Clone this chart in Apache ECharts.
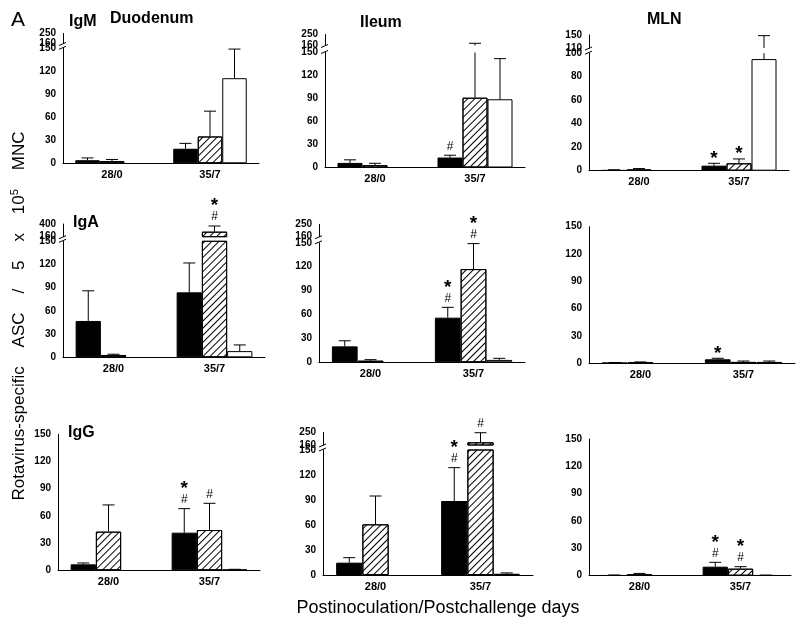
<!DOCTYPE html>
<html>
<head>
<meta charset="utf-8">
<script src="https://cdn.jsdelivr.net/npm/echarts@6/dist/echarts.min.js"></script>
<style>
  html, body { margin: 0; background: #fff; }
  #main { width: 800px; height: 620px; }
</style>
</head>
<body>
<div id="main"></div>
<script>
var days = ['28/0', '35/7'];

// rows: black, hatched, white bar; columns: days (white has no 28/0 bar)
var igmDuodenumMean = [[4, 19], [3, 35], ['-', 111]];
var igmDuodenumErr = [[3, 7], [2, 33], ['-', 38]];
var igmIleumMean = [[6, 13], [3, 91], ['-', 89]];
var igmIleumErr = [[4, 3], [2.5, 87], ['-', 53]];
var igmMlnMean = [[0.5, 4.3], [1, 6.3], ['-', 95]];
var igmMlnErr = [[0.3, 2], [0.8, 3.7], ['-', 53]];

var igaDuodenumMean = [[47, 84], [3, 255], ['-', 8]];
var igaDuodenumErr = [[39, 38], [1, 107], ['-', 8]];
var igaIleumMean = [[20, 56], [2, 117], ['-', 3]];
var igaIleumErr = [[7, 13], [1.3, 32], ['-', 2]];
var igaMlnMean = [[0.6, 4.4], [1, 1.5], ['-', 1.5]];
var igaMlnErr = [[0.3, 1.1], [0.5, 1], ['-', 1]];

var iggDuodenumMean = [[6.6, 41.5], [42.6, 44.4], ['-', 0.8]];
var iggDuodenumErr = [[1.5, 26.5], [29.5, 29.5], ['-', 0.3]];
var iggIleumMean = [[14.8, 88.8], [60.8, 179], ['-', 1.5]];
var iggIleumErr = [[6, 40], [34, 68], ['-', 1]];
var iggMlnMean = [[0.5, 9.9], [1.5, 7.7], ['-', 0.5]];
var iggMlnErr = [[0.3, 4.8], [1, 2.2], ['-', 0.2]];

// significance marks: [bar, day, symbols from bottom to top]
var igmIleumMarks = [[0, 1, '#']];
var igmMlnMarks = [[0, 1, '*'], [1, 1, '*']];
var igaDuodenumMarks = [[1, 1, '#', '*']];
var igaIleumMarks = [[0, 1, '#', '*'], [1, 1, '#', '*']];
var igaMlnMarks = [[0, 1, '*']];
var iggDuodenumMarks = [[0, 1, '#', '*'], [1, 1, '#']];
var iggIleumMarks = [[0, 1, '#', '*'], [1, 1, '#']];
var iggMlnMarks = [[0, 1, '#', '*'], [1, 1, '#', '*']];

var FONT = '"Liberation Sans", Arial, Helvetica, sans-serif';

// box: left, width, main top, main height, [break top, break height]
var panels = [
    { mean: igmDuodenumMean, err: igmDuodenumErr, marks: [], max: 150, step: 30, brk: [160, 250], box: [63, 196, 48.3, 115, 33.5, 10] },
    { mean: igmIleumMean, err: igmIleumErr, marks: igmIleumMarks, max: 150, step: 30, brk: [160, 250], box: [325, 200, 52.5, 115, 34.5, 11] },
    { mean: igmMlnMean, err: igmMlnErr, marks: igmMlnMarks, max: 100, step: 20, brk: [110, 150], box: [589, 200, 53.2, 117.5, 35, 13] },
    { mean: igaDuodenumMean, err: igaDuodenumErr, marks: igaDuodenumMarks, max: 150, step: 30, brk: [160, 400], box: [63, 202, 241.3, 116, 224, 12.7] },
    { mean: igaIleumMean, err: igaIleumErr, marks: igaIleumMarks, max: 150, step: 30, brk: [160, 250], box: [319, 206, 242.8, 119.5, 224.3, 12.4] },
    { mean: igaMlnMean, err: igaMlnErr, marks: igaMlnMarks, max: 150, step: 30, brk: null, box: [589, 206, 226.7, 136.6] },
    { mean: iggDuodenumMean, err: iggDuodenumErr, marks: iggDuodenumMarks, max: 150, step: 30, brk: null, box: [58, 202, 434.3, 136] },
    { mean: iggIleumMean, err: iggIleumErr, marks: iggIleumMarks, max: 150, step: 30, brk: [160, 250], box: [323, 210, 450, 125, 432.3, 12.7] },
    { mean: iggMlnMean, err: iggMlnErr, marks: iggMlnMarks, max: 150, step: 30, brk: null, box: [589, 202, 439, 136.7] }
];

var barStyles = [
    { color: '#000', borderColor: '#000', borderWidth: 1 },
    { color: '#fff', borderColor: '#000', borderWidth: 1,
      decal: { symbol: 'rect', symbolSize: 1, dashArrayX: [1, 0], dashArrayY: [1, 4], rotation: -Math.PI / 4, color: '#000' } },
    { color: '#fff', borderColor: '#000', borderWidth: 1 }
];

var grids = [], xAxes = [], yAxes = [], series = [], graphics = [];

function line(x1, y1, x2, y2) {
    return { type: 'line', shape: { x1: x1, y1: y1, x2: x2, y2: y2 }, style: { stroke: '#000', lineWidth: 1 } };
}

// error bars (and the * / # marks) for one bar group
function errorSeries(g, s, p) {
    var data = [];
    for (var i = 0; i < days.length; i++) {
        if (p.mean[s][i] === '-') continue;
        data.push([i, p.mean[s][i], p.err[s][i]]);
    }
    return {
        type: 'custom', xAxisIndex: g, yAxisIndex: g, data: data, z: 5, silent: true,
        encode: { x: 0, y: 1 },
        renderItem: function (params, api) {
            var i = api.value(0), v = api.value(1), e = api.value(2);
            var cs = params.coordSys;
            var bw = api.size([1, 0])[0] * 0.75 / 3;
            var x = api.coord([i, 0])[0] + (s - 1) * bw;
            var yBar = api.coord([i, v])[1];
            var yErr = api.coord([i, v + e])[1];
            var top = cs.y, bot = cs.y + cs.height;
            var a = Math.min(yBar, bot), b = Math.max(yErr, top);
            var kids = [];
            if (a > b) kids.push(line(x, a, x, b));
            if (yErr >= top - 0.5 && yErr <= bot) {
                kids.push(line(x - 6, yErr, x + 6, yErr));
                p.marks.forEach(function (m) {
                    if (m[0] !== s || m[1] !== i) return;
                    var yy = yErr - 9;
                    for (var k = 2; k < m.length; k++) {
                        var star = m[k] === '*';
                        kids.push({
                            type: 'text', x: x, y: star ? yy + 4 : yy,
                            style: {
                                text: m[k], fill: '#000', textAlign: 'center', textVerticalAlign: 'middle',
                                font: star ? 'bold 19px ' + FONT : '12px ' + FONT
                            }
                        });
                        yy -= 15;
                    }
                });
            }
            return { type: 'group', children: kids };
        }
    };
}

function addGrid(left, width, top, height, min, max, step, showX) {
    var g = grids.length;
    grids.push({ left: left, top: top, width: width, height: height });
    xAxes.push({
        gridIndex: g, type: 'category', data: days, show: showX,
        axisLine: { lineStyle: { color: '#000', width: 1 } },
        axisTick: { show: false },
        axisLabel: { color: '#000', fontWeight: 'bold', fontSize: 11, fontFamily: FONT, margin: 6 }
    });
    yAxes.push({
        gridIndex: g, type: 'value', min: min, max: max, interval: step,
        axisLine: { show: true, lineStyle: { color: '#000', width: 1 } },
        axisTick: { show: false },
        splitLine: { show: false },
        axisLabel: { color: '#000', fontWeight: 'bold', fontSize: 10, fontFamily: FONT, margin: 7 }
    });
    return g;
}

panels.forEach(function (p) {
    var b = p.box;
    var parts = [{ g: addGrid(b[0], b[1], b[2], b[3], 0, p.max, p.step, true), lo: null }];
    if (p.brk) {
        parts.push({ g: addGrid(b[0], b[1], b[4], b[5], p.brk[0], p.brk[1], p.brk[1] - p.brk[0], false), lo: p.brk[0] });
        // break marks on the axis
        var yb = b[4] + b[5];
        graphics.push({ type: 'line', shape: { x1: b[0] - 4, y1: yb + 2, x2: b[0] + 3, y2: yb - 1 }, style: { stroke: '#000', lineWidth: 1 } });
        graphics.push({ type: 'line', shape: { x1: b[0] - 4, y1: b[2] + 1, x2: b[0] + 3, y2: b[2] - 2 }, style: { stroke: '#000', lineWidth: 1 } });
    }
    parts.forEach(function (part) {
        for (var s = 0; s < 3; s++) {
            var vals = p.mean[s].map(function (v) {
                return part.lo === null || (v !== '-' && v > part.lo) ? v : '-';
            });
            series.push({
                type: 'bar', xAxisIndex: part.g, yAxisIndex: part.g, data: vals,
                barGap: '0%', barCategoryGap: '25%', clip: true, silent: true,
                itemStyle: barStyles[s]
            });
        }
        for (var s2 = 0; s2 < 3; s2++) series.push(errorSeries(part.g, s2, p));
    });
});

function label(text, x, y, font) {
    graphics.push({ type: 'text', x: x, y: y, silent: true,
        style: { text: text, font: font, fill: '#000', textVerticalAlign: 'middle' } });
}
label('A', 11, 20, '21px ' + FONT);
label('IgM', 69, 22, 'bold 16px ' + FONT);
label('Duodenum', 110, 19, 'bold 16px ' + FONT);
label('Ileum', 360, 23, 'bold 16px ' + FONT);
label('MLN', 647, 20, 'bold 16px ' + FONT);
label('IgA', 73, 223, 'bold 16px ' + FONT);
label('IgG', 68, 433, 'bold 16px ' + FONT);

graphics.push({
    type: 'text', x: 19, y: 316, rotation: Math.PI / 2, silent: true,
    style: {
        text: 'Rotavirus-specific    ASC    /    5    x    10{s|5}    MNC',
        font: '17px ' + FONT, fill: '#000', textAlign: 'center', textVerticalAlign: 'middle',
        rich: { s: { fontSize: 11, fontFamily: FONT, padding: [0, 0, 9, 0] } }
    }
});
graphics.push({
    type: 'text', x: 438, y: 608, silent: true,
    style: { text: 'Postinoculation/Postchallenge days', font: '18px ' + FONT, fill: '#000',
        textAlign: 'center', textVerticalAlign: 'middle' }
});

var chart = echarts.init(document.getElementById('main'));
chart.setOption({
    animation: false,
    backgroundColor: '#fff',
    grid: grids,
    xAxis: xAxes,
    yAxis: yAxes,
    series: series,
    graphic: graphics
});
</script>
</body>
</html>
